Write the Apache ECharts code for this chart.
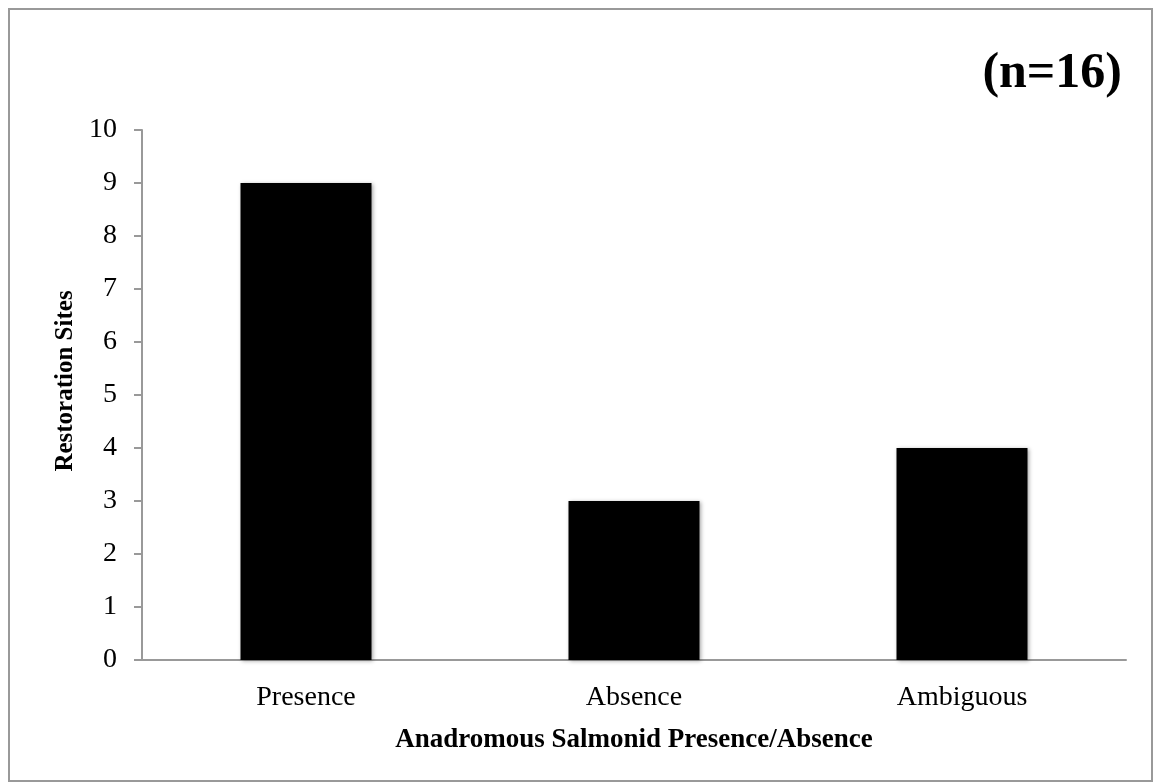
<!DOCTYPE html>
<html><head><meta charset="utf-8">
<script src="https://cdn.jsdelivr.net/npm/echarts@6/dist/echarts.min.js"></script>
<style>html,body{margin:0;padding:0;background:#fff}#c{width:1155px;height:784px}
#frame{position:absolute;left:8px;top:8px;width:1145px;height:774px;border:2px solid #999;box-sizing:border-box;pointer-events:none}</style>
</head><body><div id="c"></div><div id="frame"></div>
<script>
const categories = ['Presence', 'Absence', 'Ambiguous'];
const sites = [9, 3, 4];
const yTicks = [0, 10, 1];
const titleText = '(n=16)';
const xName = 'Anadromous Salmonid Presence/Absence';
const yName = 'Restoration Sites';
const F = 'Liberation Serif';
const chart = echarts.init(document.getElementById('c'));
chart.setOption({
  animation: false,
  title: { text: titleText, right: 33, top: 49, padding: 0, textStyle: { fontFamily: F, fontWeight: 'bold', fontSize: 50, color: '#000' } },
  grid: { left: 142, right: 29, top: 130, bottom: 124 },
  xAxis: {
    type: 'category', data: categories,
    name: xName, nameLocation: 'middle', nameGap: 67,
    nameTextStyle: { fontFamily: F, fontWeight: 'bold', fontSize: 27, color: '#000' },
    axisLine: { lineStyle: { color: '#999', width: 2 } },
    axisTick: { show: false },
    axisLabel: { fontFamily: F, fontSize: 28, color: '#000', margin: 24 }
  },
  yAxis: {
    type: 'value', min: yTicks[0], max: yTicks[1], interval: yTicks[2],
    name: yName, nameLocation: 'middle', nameGap: 64,
    nameTextStyle: { fontFamily: F, fontWeight: 'bold', fontSize: 25, color: '#000', padding: [0, 0, 0, 28] },
    axisLine: { show: true, lineStyle: { color: '#999', width: 2 } },
    axisTick: { show: true, length: 8, lineStyle: { color: '#999', width: 2 } },
    splitLine: { show: false },
    axisLabel: { fontFamily: F, fontSize: 28, color: '#000', margin: 25, padding: [4, 0, 0, 0] }
  },
  series: [{
    type: 'bar', data: sites, barWidth: 131,
    itemStyle: { color: '#000', shadowColor: 'rgba(0,0,0,0.35)', shadowBlur: 4, shadowOffsetX: 1, shadowOffsetY: 1 }
  }]
});
</script></body></html>
